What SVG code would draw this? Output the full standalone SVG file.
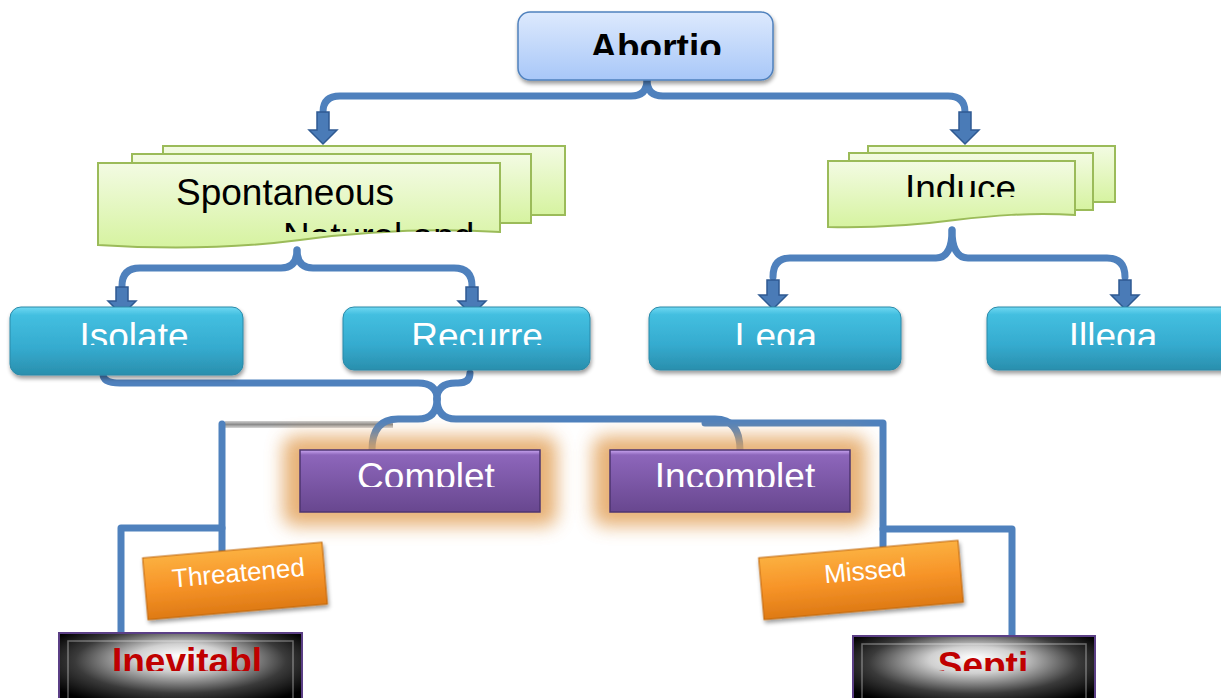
<svg xmlns="http://www.w3.org/2000/svg" width="1221" height="698" viewBox="0 0 1221 698">
<style>
.conn{fill:none;stroke:#4f81bd;stroke-width:7;stroke-linecap:round;stroke-linejoin:round}
.arrow{fill:#4a7bb7;stroke:#2f5a92;stroke-width:1.5}
.page{fill:url(#gGreen);stroke:#9bbb59;stroke-width:2}
.teal{fill:url(#gTeal);stroke:#2a89a8;stroke-width:1;filter:url(#shadow)}
.purple{fill:url(#gPurple);stroke:#4e3570;stroke-width:1.5}
.glow{fill:#e3a45f;opacity:0.85;filter:url(#blur)}
.orange{fill:url(#gOrange);stroke:#c0650c;stroke-width:1;filter:url(#shadow)}
.black{fill:url(#gBlack);stroke:#5b3f86;stroke-width:2}
.bevel{fill:none;stroke:#ffffff;stroke-opacity:0.35;stroke-width:1.5}
.t36{font-family:"Liberation Sans",Arial,sans-serif;font-size:37px}
.wt{fill:#ffffff}
.bt{fill:#000000}
.rt{fill:#c00000;font-weight:bold}
.lab{font-family:"Liberation Sans",Arial,sans-serif;font-size:26px;fill:#ffffff}
</style>
<defs>
<linearGradient id="gBlue" x1="0" y1="0" x2="0" y2="1"><stop offset="0" stop-color="#dde9fd"/><stop offset="1" stop-color="#a8c7f8"/></linearGradient>
<linearGradient id="gGreen" x1="0" y1="0" x2="0" y2="1"><stop offset="0" stop-color="#f3fbe3"/><stop offset="1" stop-color="#d6f3a0"/></linearGradient>
<linearGradient id="gTeal" x1="0" y1="0" x2="0" y2="1"><stop offset="0" stop-color="#6fd8f2"/><stop offset="0.12" stop-color="#43bfe0"/><stop offset="0.6" stop-color="#35abcf"/><stop offset="1" stop-color="#2a8fad"/></linearGradient>
<linearGradient id="gPurple" x1="0" y1="0" x2="0" y2="1"><stop offset="0" stop-color="#caa7f2"/><stop offset="0.08" stop-color="#8d66bb"/><stop offset="1" stop-color="#68478f"/></linearGradient>
<linearGradient id="gOrange" x1="0" y1="0" x2="0" y2="1"><stop offset="0" stop-color="#fbb040"/><stop offset="0.5" stop-color="#f79428"/><stop offset="1" stop-color="#de7a15"/></linearGradient>
<linearGradient id="gGrey" x1="0" y1="0" x2="0" y2="1"><stop offset="0" stop-color="#d0d0d0"/><stop offset="0.5" stop-color="#8c8c8c"/><stop offset="1" stop-color="#d8d8d8"/></linearGradient>
<radialGradient id="gBlack" cx="0.5" cy="0.4" r="0.62" fx="0.5" fy="0.3"><stop offset="0" stop-color="#ffffff"/><stop offset="0.3" stop-color="#d0d0d0"/><stop offset="0.7" stop-color="#3a3a3a"/><stop offset="1" stop-color="#000000"/></radialGradient>
<filter id="shadow" x="-10%" y="-10%" width="125%" height="135%"><feGaussianBlur in="SourceAlpha" stdDeviation="2"/><feOffset dx="1" dy="3"/><feComponentTransfer><feFuncA type="linear" slope="0.4"/></feComponentTransfer><feMerge><feMergeNode/><feMergeNode in="SourceGraphic"/></feMerge></filter>
<filter id="blur" x="-20%" y="-40%" width="140%" height="180%"><feGaussianBlur stdDeviation="9"/></filter>
<clipPath id="cAb"><rect x="518" y="12" width="255" height="43"/></clipPath>
<clipPath id="cSp"><rect x="98" y="163" width="402" height="69"/></clipPath>
<clipPath id="cIn"><rect x="828" y="161" width="247" height="36"/></clipPath>
<clipPath id="cTeal"><rect x="0" y="300" width="1221" height="45"/></clipPath>
<clipPath id="cPur"><rect x="300" y="450" width="560" height="37"/></clipPath>
<clipPath id="cBlk"><rect x="0" y="636" width="1221" height="35"/></clipPath>
</defs>
<rect width="1221" height="698" fill="#ffffff"/>

<g id="connectors">
<rect x="225" y="421" width="168" height="7" fill="url(#gGrey)"/>
<path class="conn" d="M647,80 Q647,96 631,96 L340,96 Q323,96 323,112"/>
<path class="conn" d="M647,80 Q647,96 663,96 L948,96 Q965,96 965,112"/>
<path class="conn" d="M297,250 Q297,268 281,268 L140,268 Q122,268 122,286"/>
<path class="conn" d="M297,250 Q297,268 313,268 L454,268 Q472,268 472,286"/>
<path class="conn" d="M952,230 Q952,258 936,258 L790,258 Q773,258 773,277"/>
<path class="conn" d="M952,230 Q952,258 968,258 L1107,258 Q1125,258 1125,277"/>
<path class="conn" d="M103,374 Q103,383 120,383 L418,383 Q437,383 437,399"/>
<path class="conn" d="M470,373 Q470,383 458,383 L456,383 Q437,383 437,399"/>
<path class="conn" d="M437,399 Q437,419 418,419 L398,419 Q372,419 372,450"/>
<path class="conn" d="M437,399 Q437,419 456,419 L715,419 Q740,419 740,450"/>
<path class="conn" d="M705,423 L883,423 L883,546"/>
<path class="conn" d="M883,529 L1012,529 L1012,636"/>
<path class="conn" d="M222,424 L222,552"/>
<path class="conn" d="M222,528 L121,528 L121,634"/>
<path class="arrow" d="M317,112 L329,112 L329,130 L337,130 L323,144 L309,130 L317,130 Z"/>
<path class="arrow" d="M959,112 L971,112 L971,130 L979,130 L965,144 L951,130 L959,130 Z"/>
<path class="arrow" d="M116,287 L128,287 L128,301 L136,301 L122,315 L108,301 L116,301 Z"/>
<path class="arrow" d="M466,287 L478,287 L478,301 L486,301 L472,315 L458,301 L466,301 Z"/>
<path class="arrow" d="M767,280 L779,280 L779,295 L787,295 L773,309 L759,295 L767,295 Z"/>
<path class="arrow" d="M1119,280 L1131,280 L1131,295 L1139,295 L1125,309 L1111,295 L1119,295 Z"/>
</g>

<g id="abortio">
<rect x="518" y="12" width="255" height="68" rx="12" fill="url(#gBlue)" stroke="#4f81bd" stroke-width="1.5" filter="url(#shadow)"/>
<text class="t36 bt" x="656" y="60" text-anchor="middle" font-weight="bold" clip-path="url(#cAb)">Abortio</text>
</g>

<g id="spontaneous">
<rect class="page" x="163" y="146" width="402" height="69"/>
<rect class="page" x="132" y="154" width="399" height="69"/>
<path class="page" d="M98,163 L500,163 L500,232 C430,228 360,232 300,240 C230,249 160,249 98,245 Z"/>
<text class="t36 bt" x="176" y="205" clip-path="url(#cSp)">Spontaneous</text>
<text class="t36 bt" x="283" y="249" clip-path="url(#cSp)">Natural and</text>
</g>

<g id="induce">
<rect class="page" x="868" y="146" width="247" height="56"/>
<rect class="page" x="849" y="153" width="244" height="57"/>
<path class="page" d="M828,161 L1075,161 L1075,215 C1030,212 990,216 955,220 C910,226 870,228 828,227 Z"/>
<text class="t36 bt" x="905" y="201" clip-path="url(#cIn)">Induce</text>
</g>

<g id="isolate">
<rect class="teal" x="10" y="307" width="233" height="68" rx="11"/>
<text class="t36 wt" x="134" y="349" text-anchor="middle" clip-path="url(#cTeal)">Isolate</text>
</g>
<g id="recurre">
<rect class="teal" x="343" y="307" width="247" height="63" rx="11"/>
<text class="t36 wt" x="477" y="349" text-anchor="middle" clip-path="url(#cTeal)">Recurre</text>
</g>
<g id="lega">
<rect class="teal" x="649" y="307" width="252" height="63" rx="11"/>
<text class="t36 wt" x="776" y="349" text-anchor="middle" clip-path="url(#cTeal)">Lega</text>
</g>
<g id="illega">
<rect class="teal" x="987" y="307" width="250" height="63" rx="11"/>
<text class="t36 wt" x="1113" y="349" text-anchor="middle" clip-path="url(#cTeal)">Illega</text>
</g>

<g id="complet">
<rect class="glow" x="283" y="436" width="274" height="90" rx="12"/>
<rect class="purple" x="300" y="450" width="240" height="62"/>
<text class="t36 wt" x="426" y="489" text-anchor="middle" clip-path="url(#cPur)">Complet</text>
</g>
<g id="incomplet">
<rect class="glow" x="593" y="436" width="274" height="90" rx="12"/>
<rect class="purple" x="610" y="450" width="240" height="62"/>
<text class="t36 wt" x="735" y="489" text-anchor="middle" clip-path="url(#cPur)">Incomplet</text>
</g>

<g id="threatened">
<g transform="translate(235,581) rotate(-5)">
<rect class="orange" x="-90" y="-31" width="180" height="62"/>
<text class="lab" x="4" y="1" text-anchor="middle">Threatened</text>
</g>
</g>
<g id="missed">
<g transform="translate(861,580) rotate(-5)">
<rect class="orange" x="-100" y="-31" width="200" height="62"/>
<text class="lab" x="5" y="0" text-anchor="middle">Missed</text>
</g>
</g>

<g id="inevitabl">
<rect class="black" x="59" y="633" width="243" height="75"/>
<rect class="bevel" x="68" y="641" width="225" height="60"/>
<text class="t36 rt" x="187" y="674" text-anchor="middle" clip-path="url(#cBlk)">Inevitabl</text>
</g>
<g id="septi">
<rect class="black" x="853" y="636" width="242" height="72"/>
<rect class="bevel" x="862" y="644" width="224" height="60"/>
<text class="t36 rt" x="983" y="678" text-anchor="middle" clip-path="url(#cBlk)">Septi</text>
</g>
</svg>
